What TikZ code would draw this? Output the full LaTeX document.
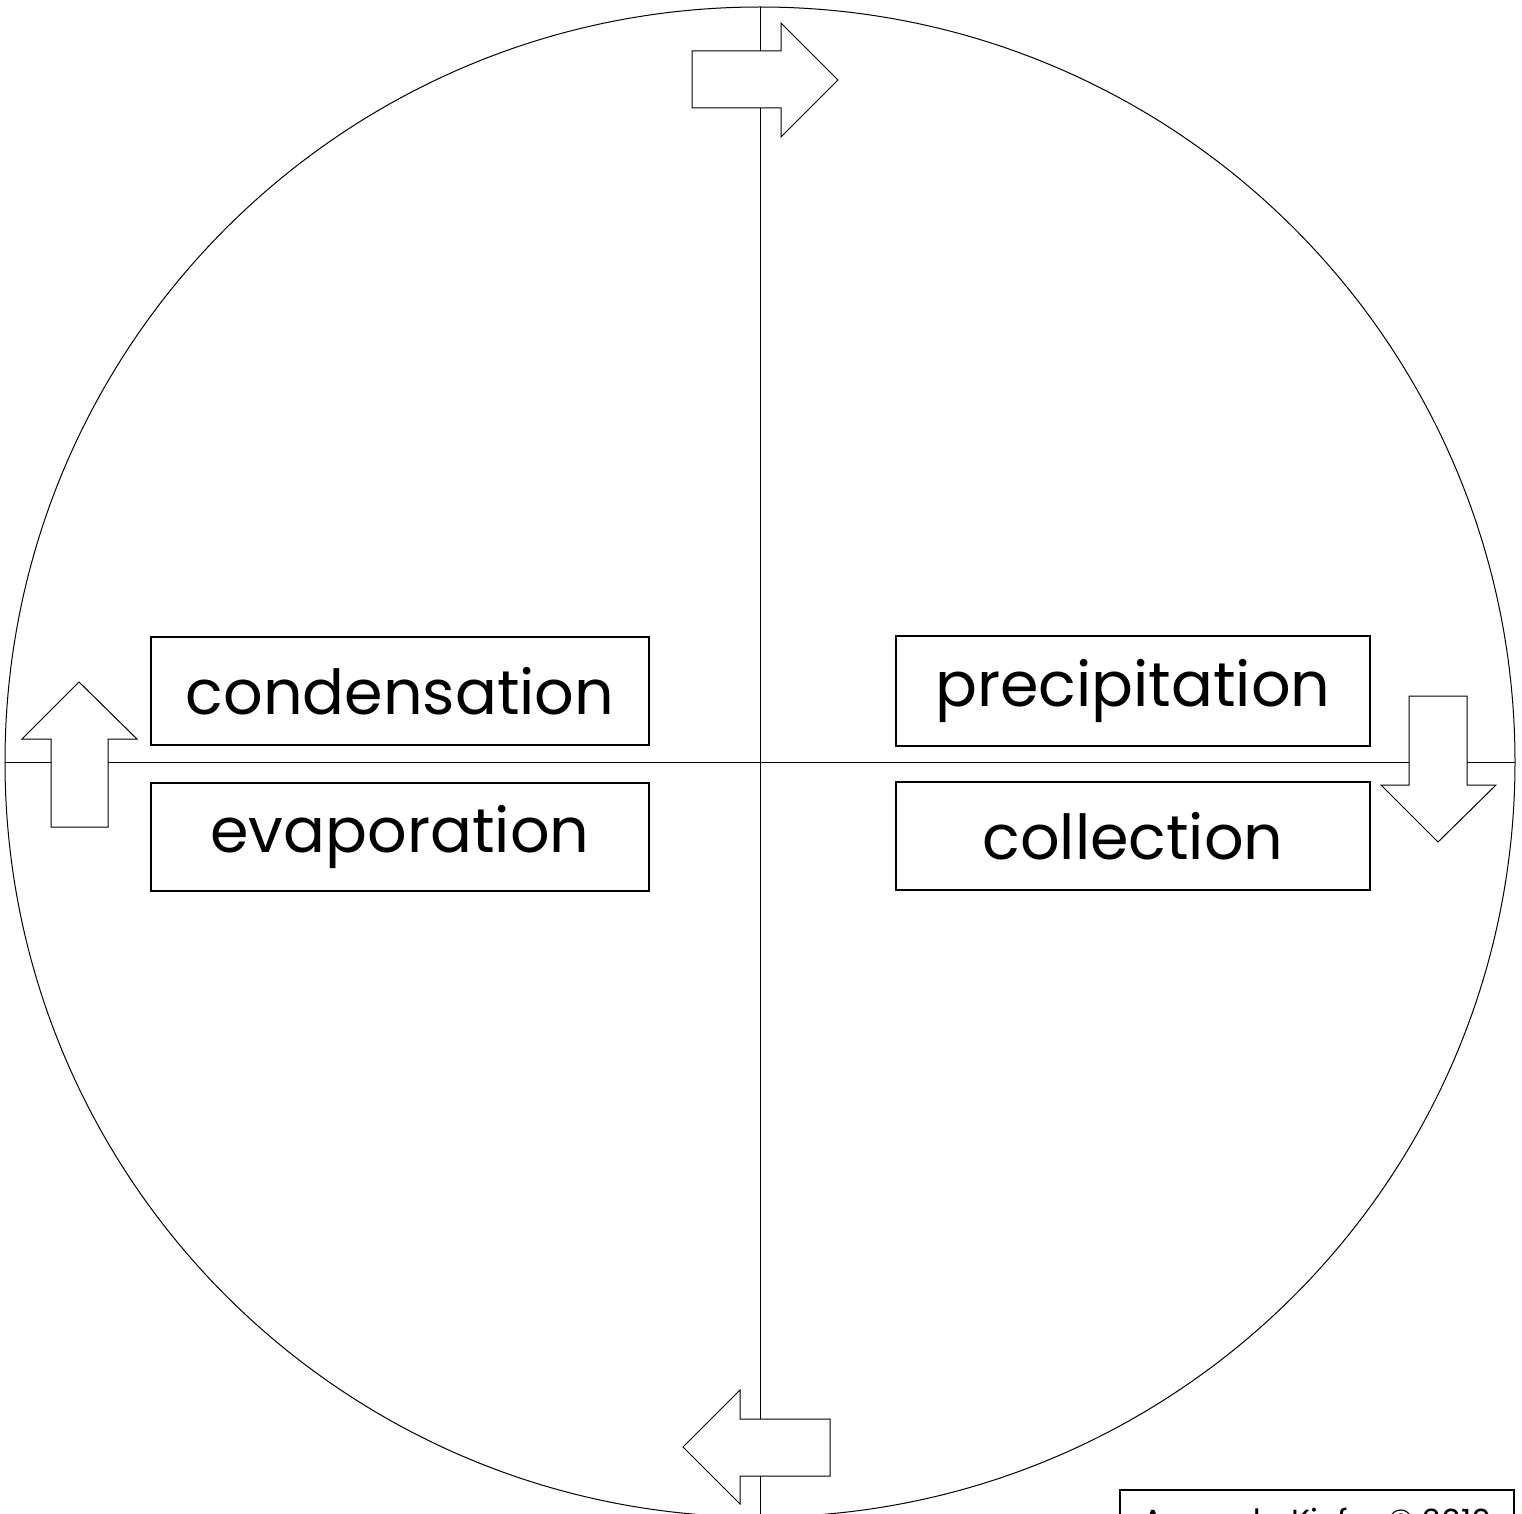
\documentclass[tikz,border=0pt]{standalone}
\usepackage{fontspec}
\setmainfont{Poppins}
\usetikzlibrary{positioning}

\begin{document}
\begin{tikzpicture}[x=0.5pt, y=-0.5pt,
    box/.style={draw, line width=1pt, minimum height=54pt, inner sep=0pt, font=\fontsize{31}{31}\selectfont, fill=white},
    flow/.style={draw, line width=0.5pt, fill=white}
]
    \useasboundingbox (0,0) rectangle (1522,1514);
    \clip (0,0) rectangle (1522,1514);
    % the cycle
    \node[circle, draw, line width=0.5pt, minimum size=755pt, inner sep=0pt, outer sep=0pt] (cycle) at (760,762) {};
    \draw[line width=0.5pt] (cycle.north) -- (cycle.south);
    \draw[line width=0.5pt] (cycle.west) -- (cycle.east);
    % arrows
    \draw[flow] (692,51) -- (781,51) -- (781,23) -- (838,80) -- (781,137) -- (781,108) -- (692,108) -- cycle;
    \draw[flow] (1409,696) -- (1467,696) -- (1467,785) -- (1496,785) -- (1438,842) -- (1381,785) -- (1409,785) -- cycle;
    \draw[flow] (830,1419) -- (740,1419) -- (740,1390) -- (683,1447) -- (740,1504) -- (740,1476) -- (830,1476) -- cycle;
    \draw[flow] (51,827) -- (51,739) -- (22,739) -- (79,682) -- (137,739) -- (108,739) -- (108,827) -- cycle;
    % stages
    \node[box, minimum width=249pt] (condensation) at (400,691) {condensation};
    \node[box, minimum width=249pt] (evaporation) at (400,837) {evaporation};
    \node[box, minimum width=237pt, minimum height=55pt] (precipitation) at (1133,690.5) {precipitation};
    \node[box, minimum width=237pt] (collection) at (1133,836) {collection};
    \node[draw, line width=1pt, anchor=north west, minimum width=197pt, inner xsep=0pt, inner ysep=9pt, font=\fontsize{16}{16}\selectfont] (credit) at (1119,1489) {Amanda Kiefer © 2010};
\end{tikzpicture}
\end{document}
